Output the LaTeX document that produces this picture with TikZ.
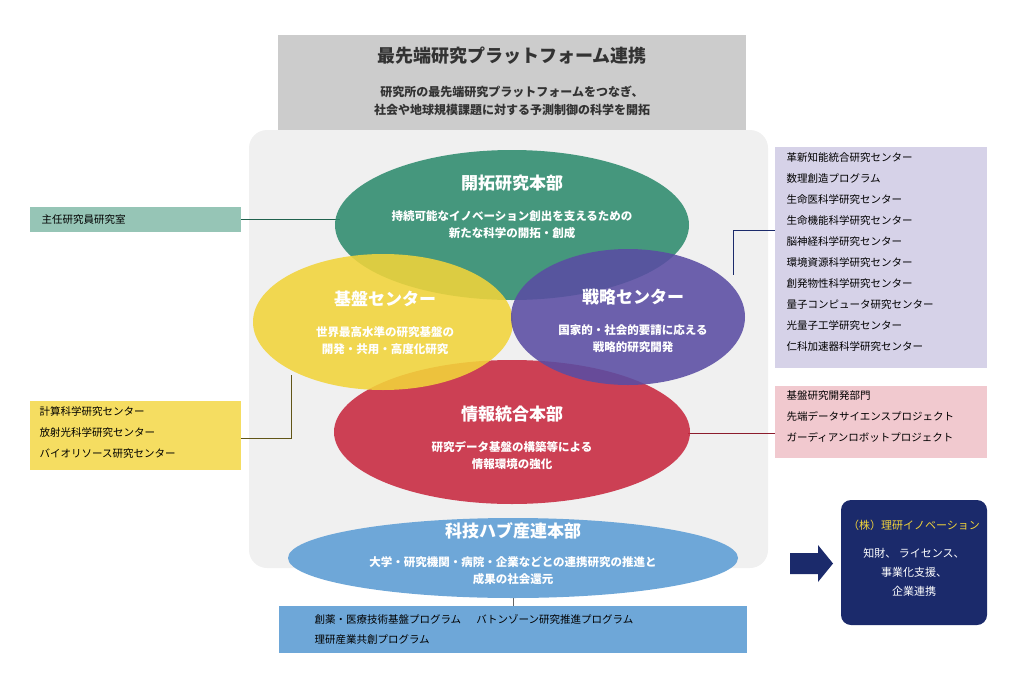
\documentclass[tikz,border=0pt]{standalone}
\usepackage{fontspec}
\setmainfont{Noto Sans CJK JP}
\newfontfamily\jpb{Noto Sans CJK JP}[BoldFont=* Bold]
\begin{document}
\begin{tikzpicture}[x=1pt,y=-1pt,
  ell/.style={fill opacity=0.88,draw=none},
  big/.style={font=\fontsize{17}{20}\selectfont\bfseries,text=white},
  sm/.style={font=\fontsize{11.5}{17}\selectfont\bfseries,text=white,align=center},
  lst/.style={font=\fontsize{10.5}{21}\selectfont,align=left,anchor=north west},
  ln/.style={line width=1pt}]
\useasboundingbox (0,0) rectangle (1020,680);
\definecolor{gr}{HTML}{2E8B6E}\definecolor{ye}{HTML}{F2D43A}\definecolor{pu}{HTML}{5A4DA3}
\definecolor{re}{HTML}{C8283F}\definecolor{bl}{HTML}{6EA7D8}\definecolor{nv}{HTML}{1B2A6B}
\fill[black!20] (278,35) rectangle (746,138);
\node[font=\fontsize{18}{20}\selectfont\bfseries,text=black!80] (t) at (512,56) {最先端研究プラットフォーム連携};
\node[font=\fontsize{12}{18}\selectfont\bfseries,text=black!80,align=center] (ts) at (512,101) {研究所の最先端研究プラットフォームをつなぎ、\\社会や地球規模課題に対する予測制御の科学を開拓};
\fill[black!6,rounded corners=18pt] (249,130) rectangle (768,568);
% connector lines
\node[fill=gr!50!white,minimum width=211,minimum height=25,inner sep=0,font=\fontsize{11}{13}\selectfont] (a) at (135.5,219.5) {};
\node[lst,anchor=west] at (38,219.5) {主任研究員研究室};
\draw[ln,gr!70!black] (a.east) -- (340,219.5);
\fill[ye!80!white] (30,401) rectangle (241,470);
\node[lst] (yb) at (36,403) {計算科学研究センター\\放射光科学研究センター\\バイオリソース研究センター};
\draw[ln,black!60!ye] (241,438) -- (291,438) -- (291,375);
\fill[pu!25!white] (775,147) rectangle (987,368);
\node[lst] (pb) at (783,149) {革新知能統合研究センター\\数理創造プログラム\\生命医科学研究センター\\生命機能科学研究センター\\脳神経科学研究センター\\環境資源科学研究センター\\創発物性科学研究センター\\量子コンピュータ研究センター\\光量子工学研究センター\\仁科加速器科学研究センター};
\draw[ln,nv] (775,230) -- (733,230) -- (733,275);
\fill[re!25!white] (775,386) rectangle (987,458);
\node[lst] (rb) at (783,387) {基盤研究開発部門\\先端データサイエンスプロジェクト\\ガーディアンロボットプロジェクト};
\draw[ln,re!70!black] (775,433) -- (688,433);
\fill[bl] (279,606) rectangle (747,653);
\draw[ln,black!60] (513,598) -- (513,606);
\node[lst,anchor=west] at (311,619) {創薬・医療技術基盤プログラム\quad\ \ バトンゾーン研究推進プログラム};
\node[lst,anchor=west] at (311,640) {理研産業共創プログラム};
% ellipses
\fill[ell,gr] (512,225) ellipse (177 and 75);
\fill[ell,re] (512,432) ellipse (178 and 72);
\fill[ell,ye] (383,322) ellipse (130 and 68);
\fill[ell,pu] (628,317) ellipse (117 and 68);
\fill[bl] (513,558) ellipse (225 and 40);
\node[big] (g) at (512,183) {開拓研究本部};
\node[sm] at (512,225) {持続可能なイノベーション創出を支えるための\\新たな科学の開拓・創成};
\node[big] (y) at (385,299) {基盤センター};
\node[sm] at (385,341) {世界最高水準の研究基盤の\\開発・共用・高度化研究};
\node[big] (p) at (633,297) {戦略センター};
\node[sm] at (633,339) {国家的・社会的要請に応える\\戦略的研究開発};
\node[big] (r) at (512,414) {情報統合本部};
\node[sm] at (512,456) {研究データ基盤の構築等による\\情報環境の強化};
\node[big] (b) at (513,531) {科技ハブ産連本部};
\node[sm] at (513,571) {大学・研究機関・病院・企業などとの連携研究の推進と\\成果の社会還元};
% arrow + navy box
\fill[nv] (790,553) -- (818,553) -- (818,545) -- (833,563.5) -- (818,582) -- (818,574) -- (790,574) -- cycle;
\fill[nv,rounded corners=10pt] (841,500) rectangle (987,625);
\node[font=\fontsize{11}{13}\selectfont,text=ye] (k) at (914,525) {（株）理研イノベーション};
\node[font=\fontsize{11}{19}\selectfont,text=white,align=center] at (914,572) {知財、\ ライセンス、\\事業化支援、\\企業連携};
\end{tikzpicture}
\end{document}
